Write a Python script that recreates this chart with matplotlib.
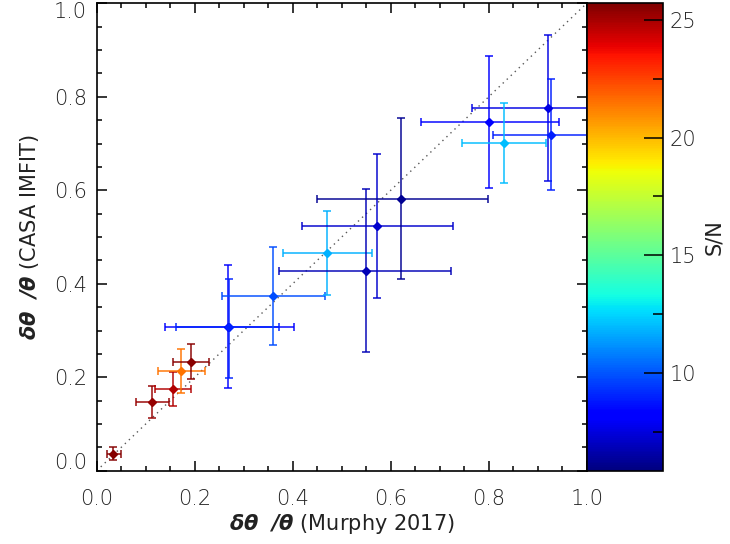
import matplotlib
matplotlib.use('Agg')
import matplotlib.pyplot as plt
import matplotlib as mpl
from matplotlib.transforms import ScaledTranslation
import numpy as np

plt.rcParams['font.family'] = ['DejaVu Sans']
plt.rcParams['font.weight'] = 200
plt.rcParams['mathtext.fontset'] = 'custom'
plt.rcParams['mathtext.bf'] = 'DejaVu Sans:italic:bold'
plt.rcParams['mathtext.rm'] = 'DejaVu Sans'

# fractional size errors: Murphy 2017 (x) vs CASA IMFIT (y)
x_val = [0.033, 0.112, 0.155, 0.172, 0.192, 0.268, 0.270, 0.360, 0.469,
         0.549, 0.571, 0.622, 0.920, 0.800, 0.928, 0.831]
x_lo = [0.020, 0.080, 0.118, 0.125, 0.155, 0.139, 0.161, 0.255, 0.380,
        0.373, 0.418, 0.449, 0.765, 0.661, 0.808, 0.745]
x_hi = [0.049, 0.147, 0.192, 0.220, 0.229, 0.402, 0.373, 0.465, 0.561,
        0.724, 0.727, 0.798, 1.075, 0.943, 1.050, 0.916]
y_val = [0.036, 0.147, 0.175, 0.213, 0.233, 0.307, 0.307, 0.374, 0.466,
         0.428, 0.523, 0.581, 0.776, 0.746, 0.718, 0.701]
y_lo = [0.022, 0.113, 0.139, 0.166, 0.196, 0.177, 0.198, 0.268, 0.376,
        0.254, 0.369, 0.410, 0.619, 0.604, 0.600, 0.615]
y_hi = [0.051, 0.181, 0.211, 0.260, 0.271, 0.440, 0.410, 0.478, 0.556,
        0.603, 0.677, 0.755, 0.932, 0.887, 0.838, 0.786]
snr = [25.6, 25.3, 24.8, 21.5, 25.5, 8.3, 9.0, 9.8, 11.8,
       6.8, 7.2, 6.2, 7.6, 8.2, 8.9, 12.0]

sn_min, sn_max = 5.84, 25.71

fig = plt.figure(figsize=(7.3, 5.44), dpi=100)
ax = fig.add_axes([0.1325, 0.1347, 0.6712, 0.8592])
cax = fig.add_axes([0.8037, 0.1347, 0.1041, 0.8592])

cmap = plt.get_cmap('jet')
norm = mpl.colors.Normalize(vmin=sn_min, vmax=sn_max)

ax.plot([0, 1], [0, 1], ls=(0, (1, 3)), color='0.35', lw=1.0, zorder=1)

for i in range(len(x_val)):
    c = cmap(norm(snr[i]))
    xe = [[x_val[i] - x_lo[i]], [x_hi[i] - x_val[i]]]
    ye = [[y_val[i] - y_lo[i]], [y_hi[i] - y_val[i]]]
    eb = ax.errorbar(x_val[i], y_val[i], xerr=xe, yerr=ye, fmt='D', ms=4,
                     color=c, mec=c, ecolor=c, elinewidth=1.4, capsize=2.6,
                     capthick=1.4, zorder=3)
    for ln in eb[2]:
        ln.set_alpha(0.75)
    for cp in eb[1]:
        cp.set_alpha(0.75)

ax.set_xlim(0, 1)
ax.set_ylim(0, 1)
ax.set_xticks(np.arange(0, 1.01, 0.2))
ax.set_yticks(np.arange(0, 1.01, 0.2))
ax.set_xticks(np.arange(0, 1.01, 0.05), minor=True)
ax.set_yticks(np.arange(0, 1.01, 0.05), minor=True)
ax.xaxis.set_major_formatter(mpl.ticker.FormatStrFormatter('%.1f'))
ax.yaxis.set_major_formatter(mpl.ticker.FormatStrFormatter('%.1f'))
ax.tick_params(which='both', direction='in', top=True, right=True,
               labelsize=15, labelcolor='#222222', width=1.1)
ax.tick_params(which='major', length=7)
ax.tick_params(axis='x', which='major', pad=13)
ax.tick_params(axis='y', which='major', pad=7)
ax.tick_params(which='minor', length=3.6)
for sp in ax.spines.values():
    sp.set_linewidth(1.2)

# end labels sit inside the axis range, like in the original
ylabs = ax.get_yticklabels()
ylabs[0].set_transform(ylabs[0].get_transform() + ScaledTranslation(0, 7 / 72, fig.dpi_scale_trans))
ylabs[-1].set_transform(ylabs[-1].get_transform() + ScaledTranslation(0, -5 / 72, fig.dpi_scale_trans))

ax.set_xlabel(r'$\mathbf{\delta\theta\ \ /\theta}$ (Murphy 2017)',
              fontsize=15, color='#222222', labelpad=2)
ax.set_ylabel(r'$\mathbf{\delta\theta\ \ /\theta}$ (CASA IMFIT)',
              fontsize=15, color='#222222', labelpad=9)

cb = mpl.colorbar.ColorbarBase(cax, cmap=cmap, norm=norm, orientation='vertical')
cb.outline.set_linewidth(1.2)
cb.set_ticks([10, 15, 20, 25])
cax.yaxis.set_minor_locator(mpl.ticker.MultipleLocator(2.5))
cax.tick_params(which='both', direction='in', right=True, left=False,
                labelsize=15, labelcolor='#222222', width=1.1)
cax.tick_params(which='major', length=14, pad=5)
cax.tick_params(which='minor', length=7)
cb.set_label('S/N', fontsize=15, color='#222222', labelpad=6)

fig.savefig('out.png', dpi=100)
